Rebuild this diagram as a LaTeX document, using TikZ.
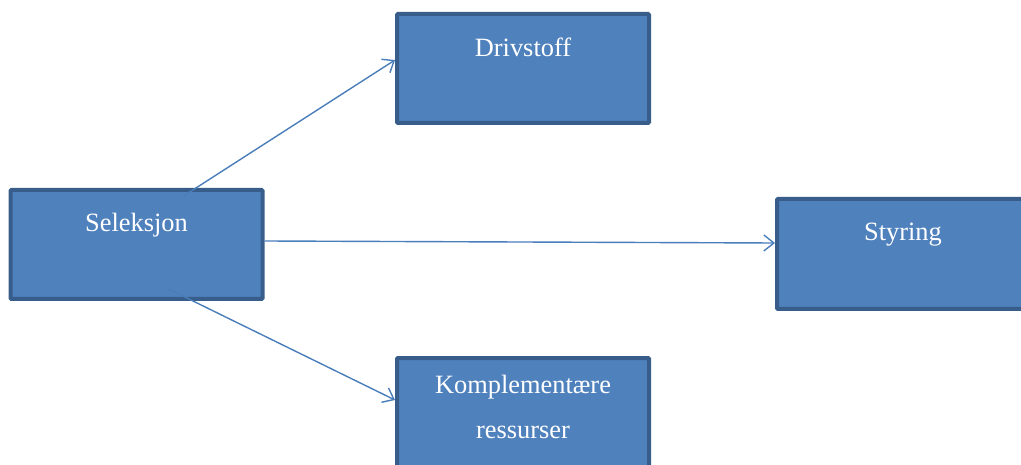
\documentclass[tikz,border=0pt]{standalone}
\usepackage{fontspec}
\setmainfont{Liberation Serif}
\usetikzlibrary{arrows.meta}
\definecolor{boksfyll}{HTML}{4F81BD}
\definecolor{boksrand}{HTML}{385D8A}
\definecolor{pilfarge}{HTML}{4A7EBB}
\tikzset{boks/.style={draw=boksrand, fill=boksfyll, line width=4pt,
minimum width=252pt, minimum height=109pt, inner sep=0pt, rounded corners=1pt},
tekst/.style={text=white, font=\fontsize{26.4}{45}\selectfont,
anchor=base, align=center, inner sep=0pt}}

\begin{document}
\begin{tikzpicture}[x=1pt, y=-1pt, pil/.style={draw=pilfarge, line width=1.4pt,
-{Straight Barb[length=10pt,width=16pt]}}]
	\clip (0,0) rectangle (1021,465);
	% boksene
	\node[boks] (drivstoff) at (523,68.5) {};
	\node[boks] (seleksjon) at (136.5,244.5) {};
	\node[boks, minimum height=110pt] (styring) at (903,254) {};
	\node[boks] (komplement) at (523,412.5) {};
	\node[tekst] (drivstofftekst) at ([yshift=-44.5pt]drivstoff.north) {Drivstoff};
	\node[tekst] (seleksjontekst) at ([yshift=-44pt]seleksjon.north) {Seleksjon};
	\node[tekst] (styringtekst) at ([yshift=-44pt]styring.north) {Styring};
	% base er siste linje her
	\node[tekst] (komplementtekst) at ([yshift=-82pt]komplement.north) {Komplementære\\ressurser};
	% pilene
	\draw[pil] ([shift={(175pt,-8pt)}]seleksjon.north west) -- ([yshift=8.5pt]drivstoff.west);
	\draw[pil] ([yshift=3.5pt]seleksjon.east) -- ([yshift=11pt]styring.west);
	\draw[pil] ([shift={(160pt,12pt)}]seleksjon.south west) -- ([yshift=12.5pt]komplement.west);
\end{tikzpicture}
\end{document}
